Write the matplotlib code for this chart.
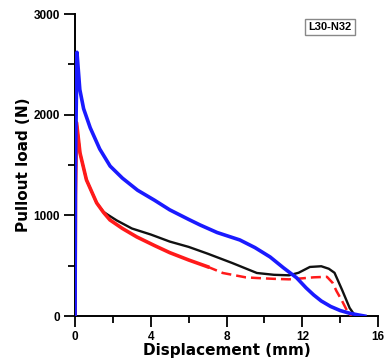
import matplotlib
matplotlib.use("Agg")
import matplotlib.pyplot as plt
from matplotlib.ticker import MultipleLocator

plt.rcParams['font.family'] = ['Liberation Sans', 'DejaVu Sans']

blue_x = [0, 0.02, 0.1, 0.25, 0.45, 0.8, 1.3, 1.85, 2.5, 3.3, 4.2, 5.0, 6.0, 6.6, 7.5, 8.7, 9.5, 10.3, 11.0, 11.7, 12.2, 12.6, 13.0, 13.5, 14.0, 14.5, 15.0, 15.3]
blue_y = [0, 1500, 2620, 2250, 2060, 1870, 1660, 1490, 1370, 1250, 1150, 1055, 960, 905, 830, 756, 680, 587, 480, 380, 280, 210, 150, 95, 55, 28, 10, 0]

red_x = [0, 0.02, 0.08, 0.26, 0.6, 1.14, 1.5, 1.84, 2.5, 3.26, 4.2, 5.0, 6.0, 7.0, 7.8, 9.0, 9.6, 10.5, 11.3, 12.0, 12.6, 13.3, 13.6, 13.8, 14.1, 14.4, 14.6]
red_y = [0, 1200, 1920, 1620, 1353, 1124, 1030, 955, 870, 786, 700, 630, 557, 490, 428, 385, 378, 370, 365, 375, 385, 390, 330, 250, 150, 40, 0]

black_x = [0, 0.02, 0.08, 0.26, 0.6, 1.14, 1.5, 1.74, 2.2, 3.0, 4.0, 5.0, 6.0, 7.0, 8.3, 9.6, 10.5, 11.3, 11.8, 12.4, 13.0, 13.4, 13.7, 14.1, 14.5, 14.8]
black_y = [0, 1200, 1920, 1620, 1353, 1124, 1035, 1005, 950, 870, 810, 740, 687, 620, 527, 428, 410, 405, 430, 488, 495, 470, 430, 260, 80, 0]

label_text = "L30-N32"
x_label = "Displacement (mm)"
y_label = "Pullout load (N)"

fig = plt.figure(figsize=(3.85, 3.6), dpi=100)
ax = fig.add_axes([0.195, 0.122, 0.787, 0.839])

ax.plot(black_x, black_y, color='#111111', lw=1.7, zorder=2)
# red: solid first part, dashed afterwards
split = 13
ax.plot(red_x[:split + 1], red_y[:split + 1], color='#ff1a1a', lw=2.6, zorder=3)
ax.plot(red_x[split:], red_y[split:], color='#ff1a1a', lw=1.8, ls=(0, (4, 2)), zorder=3)
ax.plot(blue_x, blue_y, color='#1a1aff', lw=2.6, zorder=4)

ax.set_xlim(0, 16)
ax.set_ylim(0, 3000)
ax.set_xticks([0, 4, 8, 12, 16])
ax.set_yticks([0, 1000, 2000, 3000])
ax.xaxis.set_minor_locator(MultipleLocator(2))
ax.yaxis.set_minor_locator(MultipleLocator(500))
for s in ['top', 'right']:
    ax.spines[s].set_visible(False)
for s in ['left', 'bottom']:
    ax.spines[s].set_linewidth(1.4)
ax.tick_params(which='major', direction='out', width=1.3, length=8, labelsize=8.5, pad=3)
ax.tick_params(which='minor', direction='out', width=1.3, length=5)
for t in ax.get_xticklabels() + ax.get_yticklabels():
    t.set_fontweight('bold')
ax.set_xlabel(x_label, fontsize=11, fontweight='bold', labelpad=0, family='DejaVu Sans')
ax.set_ylabel(y_label, fontsize=11, fontweight='bold', labelpad=2, family='DejaVu Sans')

ax.text(0.84, 0.957, label_text, transform=ax.transAxes, ha='center', va='center',
        fontsize=8, fontweight='bold',
        bbox=dict(boxstyle='square,pad=0.3', fc='white', ec='#888888', lw=1))

fig.savefig('out.png', dpi=100)
